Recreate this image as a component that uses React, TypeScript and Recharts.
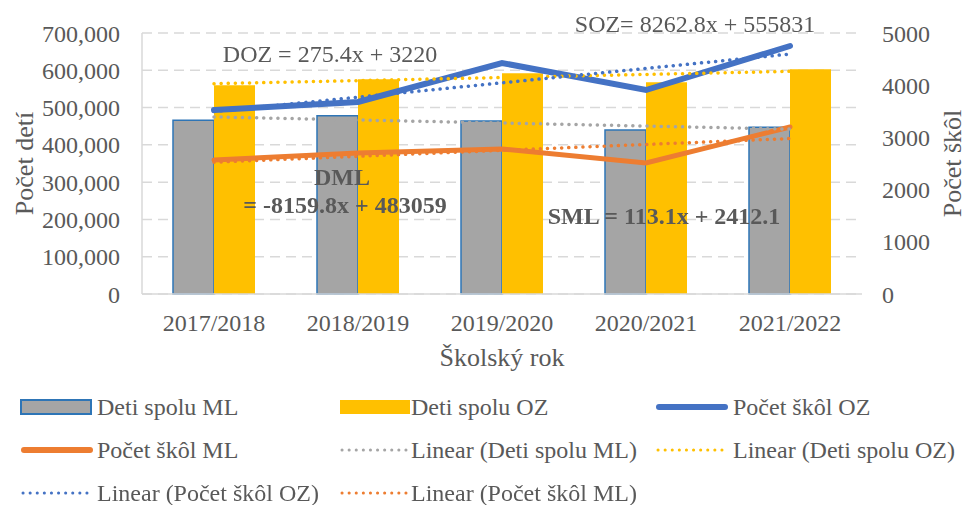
import React from 'react'
import { Bar, CartesianGrid, ComposedChart, Label, Legend, Line, XAxis, YAxis } from 'recharts'

const years = ['2017/2018', '2018/2019', '2019/2020', '2020/2021', '2021/2022']
const detiML = [466000, 478000, 464000, 440000, 447000]
const detiOZ = [560000, 576000, 592000, 568000, 603000]
const skolyOZ = [3525, 3680, 4425, 3908, 4751]
const skolyML = [2567, 2700, 2778, 2510, 3200]
// dotted trend lines
const trendDetiML = [474900, 466740, 458580, 450420, 442260]
const trendDetiOZ = [564094, 572357, 580620, 588882, 597145]
const trendSkolyOZ = [3495, 3771, 4046, 4322, 4597]
const trendSkolyML = [2525, 2638, 2752, 2865, 2978]

const leftTicks = [0, 100000, 200000, 300000, 400000, 500000, 600000, 700000]
const rightTicks = [0, 1000, 2000, 3000, 4000, 5000]

const GRAY = '#A5A5A5'
const YELLOW = '#FFC000'
const BLUE = '#4472C4'
const ORANGE = '#ED7D31'
const BORDER = '#2E75B6'
const TEXT = '#595959'
const FONT = 'Liberation Serif, Tinos, DejaVu Serif, serif'

const data = years.map((year, i) => ({
  year,
  detiML: detiML[i],
  detiOZ: detiOZ[i],
  skolyOZ: skolyOZ[i],
  skolyML: skolyML[i],
  trendDetiML: trendDetiML[i],
  trendDetiOZ: trendDetiOZ[i],
  trendSkolyOZ: trendSkolyOZ[i],
  trendSkolyML: trendSkolyML[i],
}))

const legendItems = [
  { name: 'Deti spolu ML', kind: 'bar', color: GRAY },
  { name: 'Deti spolu OZ', kind: 'bar', color: YELLOW },
  { name: 'Počet škôl OZ', kind: 'line', color: BLUE },
  { name: 'Počet škôl ML', kind: 'line', color: ORANGE },
  { name: 'Linear (Deti spolu ML)', kind: 'dot', color: GRAY },
  { name: 'Linear (Deti spolu OZ)', kind: 'dot', color: YELLOW },
  { name: 'Linear (Počet škôl OZ)', kind: 'dot', color: BLUE },
  { name: 'Linear (Počet škôl ML)', kind: 'dot', color: ORANGE },
]
const colIconX = [20, 339, 655]
const colTextX = [97, 411, 733]

// trend equations printed on the chart
const annotations = [
  { text: 'DOZ = 275.4x + 3220', x: 330, y: 62, bold: false },
  { text: 'SOZ= 8262.8x + 555831', x: 695, y: 32, bold: false },
  { text: 'DML', x: 342, y: 185, bold: true },
  { text: '= -8159.8x + 483059', x: 345, y: 213, bold: true },
  { text: 'SML = 113.1x + 2412.1', x: 664, y: 224, bold: true },
]

const LegendIcon = ({ kind, color }: { kind: string; color: string }) => (
  <svg width={74} height={20} style={{ display: 'block' }}>
    {kind === 'bar' && (
      <rect x={1} y={3} width={70} height={14} fill={color} stroke={color === GRAY ? BORDER : 'none'} strokeWidth={2} />
    )}
    {kind === 'line' && <line x1={4} y1={10} x2={70} y2={10} stroke={color} strokeWidth={6} strokeLinecap="round" />}
    {kind === 'dot' && (
      <line x1={3} y1={10} x2={72} y2={10} stroke={color} strokeWidth={3} strokeDasharray="0.1 7" strokeLinecap="round" />
    )}
  </svg>
)

const renderLegend = () => (
  <div style={{ position: 'relative', width: 967, height: 130, fontFamily: FONT, fontSize: 24, color: TEXT }}>
    {legendItems.map((item, i) => {
      const col = i % 3
      const row = Math.floor(i / 3)
      const top = 11 + row * 43
      return (
        <React.Fragment key={item.name}>
          <div style={{ position: 'absolute', left: colIconX[col], top: top + 11 }}>
            <LegendIcon kind={item.kind} color={item.color} />
          </div>
          <div style={{ position: 'absolute', left: colTextX[col], top, lineHeight: '43px', whiteSpace: 'nowrap' }}>
            {item.name}
          </div>
        </React.Fragment>
      )
    })}
  </div>
)

const yTitle = (text: string, cx: number) => (props: any) => {
  const vb = props.viewBox || { y: 33, height: 261 }
  const cy = vb.y + vb.height / 2
  return (
    <text
      x={cx}
      y={cy}
      transform={`rotate(-90, ${cx}, ${cy})`}
      textAnchor="middle"
      dominantBaseline="central"
      fill={TEXT}
      fontSize={26}
      fontFamily={FONT}
    >
      {text}
    </text>
  )
}

const App = () => {
  return (
    <div style={{ position: 'fixed', left: 0, top: 0, width: 967, height: 505, background: '#fff', fontFamily: FONT }}>
      <ComposedChart
        width={967}
        height={505}
        data={data}
        margin={{ top: 33, right: 0, left: 0, bottom: 0 }}
        barGap={0}
      >
        <CartesianGrid yAxisId="left" vertical={false} stroke="#d9d9d9" strokeDasharray="10 6" strokeWidth={1.5} />
        <XAxis
          dataKey="year"
          height={81}
          tickLine={false}
          tickSize={0}
          tickMargin={20}
          axisLine={{ stroke: '#d9d9d9', strokeWidth: 1.5 }}
          tick={{ fill: TEXT, fontSize: 24, fontFamily: FONT }}
          interval={0}
        >
          <Label value="Školský rok" position="insideBottom" offset={9} fill={TEXT} fontSize={26} fontFamily={FONT} />
        </XAxis>
        <YAxis
          yAxisId="left"
          width={142}
          domain={[0, 700000]}
          ticks={leftTicks}
          tickFormatter={(v: number) => v.toLocaleString('en-US')}
          tickLine={false}
          tickSize={0}
          tickMargin={22}
          axisLine={{ stroke: '#d9d9d9', strokeWidth: 1.5 }}
          tick={{ fill: TEXT, fontSize: 24, fontFamily: FONT }}
        >
          <Label content={yTitle('Počet detí', 24)} />
        </YAxis>
        <YAxis
          yAxisId="right"
          orientation="right"
          width={105}
          domain={[0, 5000]}
          ticks={rightTicks}
          tickLine={false}
          tickSize={0}
          tickMargin={20}
          axisLine={false}
          tick={{ fill: TEXT, fontSize: 24, fontFamily: FONT }}
        >
          <Label content={yTitle('Počet škôl', 952)} />
        </YAxis>
        <Legend verticalAlign="bottom" content={renderLegend} wrapperStyle={{ left: 0, width: 967, height: 130 }} />
        <Bar yAxisId="left" dataKey="detiML" name="Deti spolu ML" fill={GRAY} stroke={BORDER} strokeWidth={1.5} barSize={41} isAnimationActive={false} />
        <Bar yAxisId="left" dataKey="detiOZ" name="Deti spolu OZ" fill={YELLOW} barSize={41} isAnimationActive={false} />
        <Line yAxisId="right" dataKey="skolyOZ" name="Počet škôl OZ" stroke={BLUE} strokeWidth={6} dot={false} activeDot={false} strokeLinecap="round" isAnimationActive={false} />
        <Line yAxisId="right" dataKey="skolyML" name="Počet škôl ML" stroke={ORANGE} strokeWidth={5} dot={false} activeDot={false} strokeLinecap="round" isAnimationActive={false} />
        <Line yAxisId="left" dataKey="trendDetiML" name="Linear (Deti spolu ML)" stroke={GRAY} strokeWidth={3.5} strokeDasharray="0.1 7" strokeLinecap="round" dot={false} activeDot={false} isAnimationActive={false} />
        <Line yAxisId="left" dataKey="trendDetiOZ" name="Linear (Deti spolu OZ)" stroke={YELLOW} strokeWidth={3.5} strokeDasharray="0.1 7" strokeLinecap="round" dot={false} activeDot={false} isAnimationActive={false} />
        <Line yAxisId="right" dataKey="trendSkolyOZ" name="Linear (Počet škôl OZ)" stroke={BLUE} strokeWidth={3.5} strokeDasharray="0.1 7" strokeLinecap="round" dot={false} activeDot={false} isAnimationActive={false} />
        <Line yAxisId="right" dataKey="trendSkolyML" name="Linear (Počet škôl ML)" stroke={ORANGE} strokeWidth={3.5} strokeDasharray="0.1 7" strokeLinecap="round" dot={false} activeDot={false} isAnimationActive={false} />
      </ComposedChart>
      <svg width={967} height={505} style={{ position: 'absolute', left: 0, top: 0, pointerEvents: 'none' }}>
        {annotations.map((a) => (
          <text key={a.text} x={a.x} y={a.y} fill={TEXT} fontFamily={FONT} fontSize={24} textAnchor="middle" fontWeight={a.bold ? 'bold' : 'normal'}>
            {a.text}
          </text>
        ))}
      </svg>
    </div>
  )
}

export default App
